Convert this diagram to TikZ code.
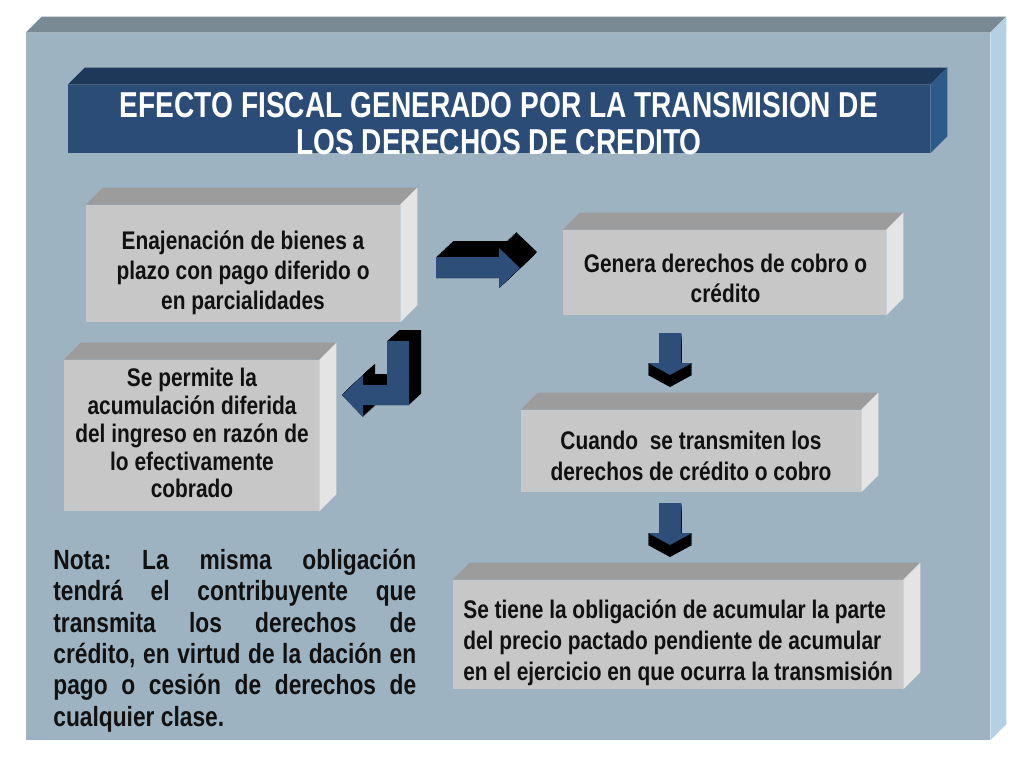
\documentclass[tikz,border=0pt]{standalone}
\usepackage{fontspec}
\newfontfamily\narrowfont{Liberation Sans}[FakeStretch=0.82]
\newfontfamily\titlefont{Liberation Sans}[FakeStretch=0.78]
\definecolor{panelfront}{HTML}{9DB3C2}
\definecolor{paneltop}{HTML}{7A8A95}
\definecolor{panelside}{HTML}{B4D1E4}
\definecolor{titlefront}{HTML}{2A4C77}
\definecolor{titletop}{HTML}{1E3859}
\definecolor{titleside}{HTML}{2E5A8A}
\definecolor{boxfront}{HTML}{C7C7C7}
\definecolor{boxtop}{HTML}{9C9C9C}
\definecolor{boxside}{HTML}{E4E4E4}
\definecolor{arrowblue}{HTML}{2C4E78}
\definecolor{inktext}{HTML}{111111}
% top and right faces of a bevelled block
\newcommand{\bevel}[4]{%
  \fill[#3] (#1.north west) -- ++(#2,-#2) -- ([shift={(#2,-#2)}]#1.north east) -- (#1.north east) -- cycle;
  \fill[#4] (#1.north east) -- ++(#2,-#2) -- ([shift={(#2,-#2)}]#1.south east) -- (#1.south east) -- cycle;
}
% block arrow extruded by (dx,dy)
\newcommand{\blockarrow}[3]{%
  \foreach \t in {0,0.05,...,1.001}{
    \fill[black, shift={({\t*(#1)},{\t*(#2)})}] #3;}
  \fill[arrowblue] #3;
}
\begin{document}
\frenchspacing
\begin{tikzpicture}[x=0.02cm, y=-0.02cm,
    panel/.style={rectangle, fill=panelfront, minimum width=19.28cm, minimum height=14.14cm},
    banner/.style={rectangle, fill=titlefront, inner sep=0pt},
    bannertext/.style={text=white, align=center, inner sep=0pt,
      font=\titlefont\bfseries\fontsize{20.5}{21}\selectfont},
    box/.style={rectangle, fill=boxfront, inner sep=0pt},
    boxtext/.style={text=inktext, align=center, inner sep=0pt,
      font=\narrowfont\bfseries\fontsize{14.5}{17}\selectfont},
    note/.style={text=inktext, text width=7.26cm, align=justify, inner sep=0pt,
      font=\narrowfont\bfseries\fontsize{15.8}{17.8}\selectfont}
]
    \useasboundingbox[fill=white] (0,0) rectangle (1024,768);

    \node[panel] (panel) at (508,386.5) {};
    \bevel{panel}{16}{paneltop}{panelside}

    \node[banner, minimum width=17.24cm, minimum height=1.36cm] (title) at (499,119) {};
    \bevel{title}{17}{titletop}{titleside}
    \node[bannertext] (titletext) at (499,124)
      {EFECTO FISCAL GENERADO POR LA TRANSMISION DE\\LOS DERECHOS DE CREDITO};

    % grey blocks
    \node[box, minimum width=6.28cm, minimum height=2.34cm] (sale) at (243,263.5) {};
    \node[box, minimum width=6.46cm, minimum height=1.7cm] (rights) at (724.5,272.5) {};
    \node[box, minimum width=5.1cm, minimum height=3.02cm] (deferral) at (191.5,435.5) {};
    \node[box, minimum width=6.8cm, minimum height=1.64cm] (transfer) at (691,451) {};
    \node[box, minimum width=9cm, minimum height=2.18cm] (duty) at (678,634.5) {};
    \foreach \b in {sale,rights,deferral,transfer,duty}{
      \bevel{\b}{17}{boxtop}{boxside}}

    \node[boxtext] (saletext) at (243,272.5)
      {Enajenación de bienes a\\plazo con pago diferido o\\en parcialidades};
    \node[boxtext] (rightstext) at (725.5,278.5)
      {Genera derechos de cobro o\\crédito};
    \node[boxtext, font=\narrowfont\bfseries\fontsize{14.5}{15.9}\selectfont] (deferraltext) at (192,433)
      {Se permite la\\acumulación diferida\\del ingreso en razón de\\lo efectivamente\\cobrado};
    \node[boxtext, font=\narrowfont\bfseries\fontsize{14.5}{17.6}\selectfont] (transfertext) at (691,456)
      {Cuando~ se transmiten los\\derechos de crédito o cobro};
    \node[boxtext, align=left, anchor=west, font=\narrowfont\bfseries\fontsize{14.5}{17.6}\selectfont] (dutytext) at (463,642.5)
      {Se tiene la obligación de acumular la parte\\del precio pactado pendiente de acumular\\en el ejercicio en que ocurra la transmisión};

    \node[note, anchor=north west] (nota) at (53,549)
      {Nota: La misma obligación\linebreak tendrá el contribuyente que\linebreak transmita los derechos de\linebreak
       crédito, en virtud de la dación en\linebreak pago o cesión de derechos de\linebreak cualquier clase.};

    % arrows
    \blockarrow{17}{-16}{(436,257) -- (499,257) -- (499,248) -- (520,268) -- (499,288) -- (499,278) -- (436,278) -- cycle}
    \blockarrow{12}{-11}{(409,341) -- (387,341) -- (387,385) -- (363,385) -- (363,375) -- (342,395) -- (363,417) -- (363,405) -- (409,405) -- cycle}
    \blockarrow{0}{12}{(659,333) -- (681,333) -- (681,363) -- (692,363) -- (670,375) -- (648,363) -- (659,363) -- cycle}
    \blockarrow{0}{12}{(659,503) -- (681,503) -- (681,533) -- (692,533) -- (670,545) -- (648,533) -- (659,533) -- cycle}
\end{tikzpicture}
\end{document}
